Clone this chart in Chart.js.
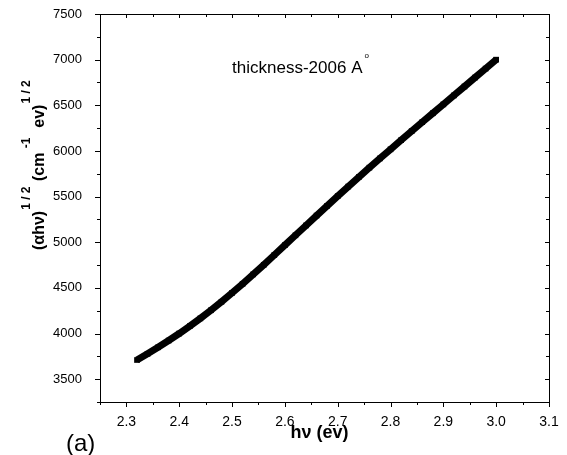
<!DOCTYPE html>
<html>
<head>
<meta charset="utf-8">
<script src="https://cdn.jsdelivr.net/npm/chart.js@4.4.0/dist/chart.umd.min.js"></script>
<style>
    html, body { margin: 0; padding: 0; background: #fff; }
</style>
</head>
<body>
<canvas id="taucChart" width="567" height="455"></canvas>
<script>
// photon energy hv (eV) and (alpha*hv)^1/2
let photonEnergy = [2.32, 2.34, 2.36, 2.38, 2.40, 2.42, 2.44, 2.46, 2.48, 2.50, 2.52, 2.54, 2.56, 2.58, 2.60, 2.62, 2.64, 2.66,
    2.68, 2.70, 2.72, 2.74, 2.76, 2.78, 2.80, 2.82, 2.84, 2.86, 2.88, 2.90, 2.92, 2.94, 2.96, 2.98, 3.00];
let taucValues = [3710, 3778, 3849, 3923, 4000, 4081, 4166, 4255, 4348, 4445, 4545, 4648, 4753, 4860, 4968, 5076, 5184, 5292,
    5399, 5505, 5610, 5714, 5817, 5918, 6018, 6118, 6217, 6315, 6413, 6510, 6608, 6706, 6804, 6902, 7000];

let xTicks = [2.3, 2.4, 2.5, 2.6, 2.7, 2.8, 2.9, 3.0, 3.1];
let xMinorTicks = [2.25, 2.35, 2.45, 2.55, 2.65, 2.75, 2.85, 2.95, 3.05];
let yTicks = [3500, 4000, 4500, 5000, 5500, 6000, 6500, 7000, 7500];
let yMinorTicks = [3250, 3750, 4250, 4750, 5250, 5750, 6250, 6750, 7250];

let fontFamily = '"Liberation Sans", Arial, Helvetica, sans-serif';

let framePlugin = {
    id: 'framePlugin',
    afterDraw(chart) {
        let ctx = chart.ctx;
        let a = chart.chartArea;
        let x = chart.scales.x;
        let y = chart.scales.y;
        ctx.save();
        ctx.strokeStyle = '#000';
        ctx.lineWidth = 1;
        ctx.strokeRect(Math.round(a.left) + 0.5, Math.round(a.top) + 0.5, Math.round(a.right - a.left), Math.round(a.bottom - a.top));

        ctx.beginPath();
        // bottom / top ticks
        xTicks.forEach(v => {
            let px = Math.round(x.getPixelForValue(v)) + 0.5;
            ctx.moveTo(px, a.bottom); ctx.lineTo(px, a.bottom + 5);
            ctx.moveTo(px, a.top); ctx.lineTo(px, a.top + 4);
        });
        xMinorTicks.forEach(v => {
            let px = Math.round(x.getPixelForValue(v)) + 0.5;
            ctx.moveTo(px, a.bottom); ctx.lineTo(px, a.bottom + 3);
            ctx.moveTo(px, a.top); ctx.lineTo(px, a.top + 3);
        });
        // left / right ticks
        yTicks.forEach(v => {
            let py = Math.round(y.getPixelForValue(v)) + 0.5;
            ctx.moveTo(a.left, py); ctx.lineTo(a.left - 5, py);
            ctx.moveTo(a.right, py); ctx.lineTo(a.right - 4, py);
        });
        yMinorTicks.forEach(v => {
            let py = Math.round(y.getPixelForValue(v)) + 0.5;
            ctx.moveTo(a.left, py); ctx.lineTo(a.left - 3, py);
            ctx.moveTo(a.right, py); ctx.lineTo(a.right - 3, py);
        });
        ctx.stroke();

        ctx.fillStyle = '#000';
        // annotation
        let tx = x.getPixelForValue(2.5);
        let ty = y.getPixelForValue(6850);
        ctx.font = '17px ' + fontFamily;
        ctx.textAlign = 'left';
        ctx.textBaseline = 'alphabetic';
        let label = 'thickness-2006 A';
        ctx.fillText(label, tx, ty);
        let lw = ctx.measureText(label).width;
        ctx.font = '8px ' + fontFamily;
        ctx.fillText('o', tx + lw + 2, ty - 15);

        // x title
        ctx.font = 'bold 18px ' + fontFamily;
        ctx.textAlign = 'center';
        ctx.textBaseline = 'middle';
        ctx.fillText('h\u03bd (ev)', (a.left + a.right) / 2 - 5, 433);

        // panel label
        ctx.font = '24px ' + fontFamily;
        ctx.textAlign = 'left';
        ctx.fillText('(a)', 66, 444);

        // y title with superscripts
        ctx.translate(44, 250);
        ctx.rotate(-Math.PI / 2);
        ctx.textAlign = 'left';
        ctx.textBaseline = 'alphabetic';
        let parts = [
            ['(\u03b1h\u03bd)', 'bold 16px ', 0],
            ['1 / 2', 'bold 12px ', -14],
            [' (cm', 'bold 16px ', 0],
            [' -1', 'bold 12px ', -14],
            ['  ev)', 'bold 16px ', 0],
            ['1 / 2', 'bold 12px ', -14],
        ];
        let cx = 0;
        parts.forEach(p => {
            ctx.font = p[1] + fontFamily;
            ctx.fillText(p[0], cx, p[2]);
            cx += ctx.measureText(p[0]).width + 1;
        });
        ctx.restore();
    }
};

function buildTaucChart() {
    let ctx = document.getElementById('taucChart');

    let points = photonEnergy.map((e, i) => ({ x: e, y: taucValues[i] }));

    new Chart(ctx, {
        type: 'scatter',
        data: {
            datasets: [
                {
                    label: 'thickness-2006',
                    data: points,
                    showLine: true,
                    borderColor: '#000',
                    backgroundColor: '#000',
                    borderWidth: 7,
                    pointStyle: 'rect',
                    pointRadius: 4,
                    pointBorderWidth: 0,
                    tension: 0,
                },
            ],
        },
        options: {
            responsive: false,
            animation: false,
            devicePixelRatio: 1,
            layout: { padding: { top: 14, right: 18, left: 0, bottom: 0 } },
            plugins: {
                legend: { display: false },
                tooltip: { enabled: false },
            },
            scales: {
                x: {
                    type: 'linear',
                    min: 2.25,
                    max: 3.1,
                    grid: { display: false },
                    border: { display: false },
                    afterBuildTicks: scale => { scale.ticks = xTicks.map(v => ({ value: v })); },
                    afterFit: scale => {
                        scale.height = 53;
                        scale.paddingLeft = 0;
                        scale.paddingRight = 0;
                    },
                    ticks: {
                        color: '#000',
                        padding: 4,
                        maxRotation: 0,
                        autoSkip: false,
                        font: { family: fontFamily, size: 14 },
                        callback: v => v.toFixed(1),
                    },
                },
                y: {
                    type: 'linear',
                    min: 3250,
                    max: 7500,
                    grid: { display: false },
                    border: { display: false },
                    afterBuildTicks: scale => { scale.ticks = yTicks.map(v => ({ value: v })); },
                    afterFit: scale => {
                        scale.width = 100;
                        scale.paddingTop = 0;
                        scale.paddingBottom = 0;
                    },
                    ticks: {
                        color: '#000',
                        padding: 10,
                        autoSkip: false,
                        font: { family: fontFamily, size: 13 },
                        callback: v => String(v),
                    },
                },
            },
        },
        plugins: [framePlugin],
    });
}

document.addEventListener('DOMContentLoaded', () => {
    buildTaucChart();
});
</script>
</body>
</html>
